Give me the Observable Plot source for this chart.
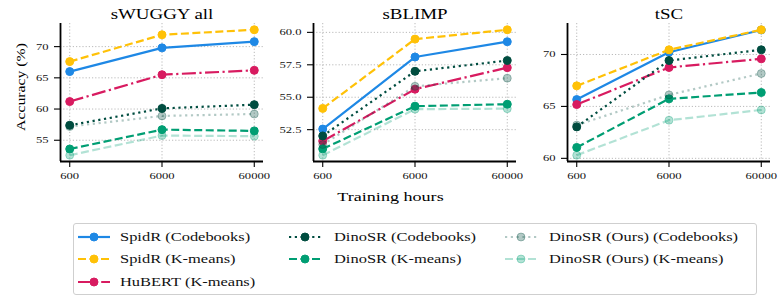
<!DOCTYPE html>
<html><head><meta charset="utf-8">
<script src="https://cdn.jsdelivr.net/npm/d3@7"></script>
<script src="https://cdn.jsdelivr.net/npm/@observablehq/plot@0.6"></script>
<style>
html,body{margin:0;padding:0;background:#fff;}
#fig{position:relative;width:780px;height:300px;overflow:hidden;font-family:"Liberation Serif","Times New Roman","DejaVu Serif",serif;color:#111;}
.panel{position:absolute;top:0;}
#legendbox{position:absolute;left:73px;top:223px;width:684px;height:72px;border:1px solid #cfcfcf;border-radius:3px;box-sizing:border-box;background:#fff;}
.key{position:absolute;}
.lab{position:absolute;font-size:12px;white-space:nowrap;line-height:14px;transform:scaleX(1.37);transform-origin:left center;}
</style></head><body><div id="fig"></div>
<script>
const hours = [600, 6000, 60000];
const seriesNames = ["SpidR (Codebooks)", "SpidR (K-means)", "HuBERT (K-means)", "DinoSR (Codebooks)", "DinoSR (K-means)", "DinoSR (Ours) (Codebooks)", "DinoSR (Ours) (K-means)"];
const seriesColors = ["#1E88E5", "#FFC107", "#D81B60", "#004D40", "#009E73", "#004D40", "#009E73"];
const seriesDash = [null, "8,3.5", "14,3.5,2.2,3.5", "2.2,3.6", "8,3.5", "2.2,3.6", "8,3.5"];
const seriesAlpha = [1, 1, 1, 1, 1, 0.3, 0.3];
const taskTitles = ["sWUGGY all", "sBLIMP", "tSC"];
const swuggyAcc = [[66.0, 69.8, 70.8], [67.6, 71.9, 72.7], [61.2, 65.5, 66.2], [57.4, 60.1, 60.7], [53.6, 56.7, 56.5], [57.2, 58.9, 59.2], [52.6, 55.75, 55.65]];
const sblimpAcc = [[52.55, 58.1, 59.28], [54.14, 59.48, 60.2], [51.62, 55.62, 57.28], [52.02, 57.0, 57.83], [51.02, 54.31, 54.46], [51.35, 55.84, 56.47], [50.53, 54.08, 54.12]];
const tscAcc = [[65.66, 70.22, 72.36], [66.98, 70.45, 72.38], [65.18, 68.75, 69.58], [63.03, 69.42, 70.45], [61.05, 65.73, 66.34], [63.2, 66.11, 68.17], [60.3, 63.67, 64.66]];
const yTicks = [[55, 60, 65, 70], [52.5, 55, 57.5, 60], [60, 65, 70]];
const yTickFormats = ["d", ".1f", "d"];
const yLabel = "Accuracy (%)";
const xLabel = "Training hours";

const fig = document.getElementById("fig");
const S = 1.37;
function stretch(root, s) {
  root.querySelectorAll("text").forEach(t => {
    const x = parseFloat(t.getAttribute("x")) || 0, y = parseFloat(t.getAttribute("y")) || 0;
    const xs = String(t.getAttribute("x") || "").endsWith("em") ? 0 : x;
    const tr = t.getAttribute("transform") || "";
    t.setAttribute("transform", `${tr} translate(${xs},0) scale(${s},1) translate(${-xs},0)`);
  });
}

const layout = [
  {left: 0, width: 268, ml: 60, mr: 5},
  {left: 268, width: 253, ml: 45, mr: 5},
  {left: 521, width: 259, ml: 46, mr: 10}
];
const allAcc = [swuggyAcc, sblimpAcc, tscAcc];
const gridStyle = {stroke: "#a8a8a8", strokeOpacity: 1, strokeWidth: 0.8, strokeDasharray: "1.2,2"};

allAcc.forEach((acc, k) => {
  const rows = acc.flatMap((vals, i) => vals.map((v, j) => ({s: i, hours: hours[j], acc: v})));
  const [lo, hi] = d3.extent(rows, d => d.acc);
  const pad = (hi - lo) * 0.05;
  const yDom = [lo - pad, hi + pad];
  const lx = Math.log10(hours[0]), hx = Math.log10(hours[hours.length - 1]);
  const xp = (hx - lx) * 0.05;
  const xDom = [10 ** (lx - xp), 10 ** (hx + xp)];
  const marks = [
    Plot.gridY({ticks: yTicks[k], ...gridStyle}),
    Plot.gridX({ticks: hours, ...gridStyle})
  ];
  seriesNames.forEach((n, i) => {
    const d = rows.filter(r => r.s === i);
    const lineOpts = {x: "hours", y: "acc", stroke: seriesColors[i], strokeWidth: 2.2, strokeOpacity: seriesAlpha[i], strokeLinecap: "butt", strokeLinejoin: "round"};
    if (seriesDash[i]) lineOpts.strokeDasharray = seriesDash[i];
    marks.push(Plot.line(d, lineOpts));
    marks.push(Plot.dot(d, {x: "hours", y: "acc", r: 4, fill: seriesColors[i], fillOpacity: seriesAlpha[i], stroke: seriesColors[i], strokeOpacity: seriesAlpha[i], strokeWidth: 1}));
  });
  marks.push(Plot.axisY({ticks: yTicks[k], tickFormat: d3.format(yTickFormats[k]), tickSize: 6, tickPadding: 6, label: null, stroke: "#000", strokeWidth: 1.1, fontSize: 9.2}));
  marks.push(Plot.axisX({ticks: hours, tickFormat: () => "", tickSize: 6, label: null, stroke: "#000", strokeWidth: 1.1}));
  marks.push(Plot.text(hours, {x: d => d, text: d => String(d), frameAnchor: "bottom", lineAnchor: "top", dy: 11, fontSize: 9.2, fill: "#111"}));
  marks.push(Plot.ruleX([xDom[0]], {stroke: "#000", strokeWidth: 1.8}));
  marks.push(Plot.ruleY([yDom[0]], {stroke: "#000", strokeWidth: 1.8}));
  marks.push(Plot.text([taskTitles[k]], {text: d => d, frameAnchor: "top", dy: -14.7, fontSize: 13.8, fill: "#000"}));
  if (k === 0) marks.push(Plot.text([yLabel], {text: d => d, frameAnchor: "left", textAnchor: "middle", rotate: -90, dx: -39, dy: -5.5, fontSize: 11.5, fill: "#000"}));
  if (k === 1) marks.push(Plot.text([xLabel], {text: d => d, frameAnchor: "bottom", dx: -24.5, dy: 39, fontSize: 13.2, fill: "#000"}));
  const L = layout[k];
  const svg = Plot.plot({
    width: L.width, height: 212,
    marginLeft: L.ml, marginRight: L.mr, marginTop: 23, marginBottom: 51,
    x: {type: "log", domain: xDom},
    y: {domain: yDom},
    style: {fontFamily: "'Liberation Serif','Times New Roman','DejaVu Serif',serif", fontSize: "9.2px", color: "#111", background: "transparent", overflow: "visible"},
    marks
  });
  stretch(svg, S);
  svg.classList.add("panel");
  svg.style.left = L.left + "px";
  svg.style.position = "absolute";
  fig.appendChild(svg);
});

// legend
const box = document.createElement("div");
box.id = "legendbox";
fig.appendChild(box);
const cols = [[0, 1, 2], [3, 4], [5, 6]];
const keyX = [78, 289, 505];
const textX = [120, 334, 549];
const rowY = [237, 259, 282];
cols.forEach((c, ci) => c.forEach((si, ri) => {
  const key = d3.create("svg").attr("class", "key").attr("width", 32).attr("height", 10)
    .style("left", keyX[ci] + "px").style("top", (rowY[ri] - 5) + "px");
  key.append("line").attr("x1", 0).attr("x2", 32).attr("y1", 5).attr("y2", 5)
    .attr("stroke", seriesColors[si]).attr("stroke-width", 2.2).attr("stroke-opacity", seriesAlpha[si])
    .attr("stroke-dasharray", seriesDash[si]);
  key.append("circle").attr("cx", 16).attr("cy", 5).attr("r", 4)
    .attr("fill", seriesColors[si]).attr("fill-opacity", seriesAlpha[si])
    .attr("stroke", seriesColors[si]).attr("stroke-opacity", seriesAlpha[si]);
  fig.appendChild(key.node());
  const lab = document.createElement("div");
  lab.className = "lab";
  lab.textContent = seriesNames[si];
  lab.style.left = textX[ci] + "px";
  lab.style.top = (rowY[ri] - 7) + "px";
  fig.appendChild(lab);
}));
</script></body></html>
